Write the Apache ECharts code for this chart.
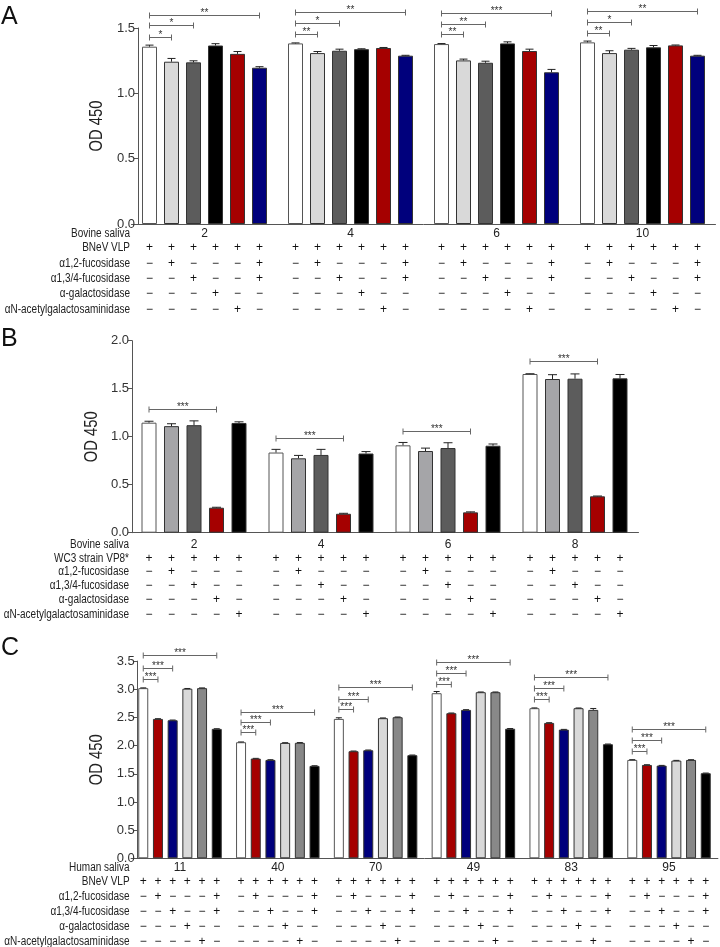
<!DOCTYPE html>
<html><head><meta charset="utf-8">
<script src="https://cdn.jsdelivr.net/npm/echarts@6/dist/echarts.min.js"></script>
<style>html,body{margin:0;padding:0;background:#fff}#c{width:720px;height:947px}</style>
</head><body><div id="c"></div>
<script>
const FONT = "'Liberation Sans',Arial,sans-serif";
const SQUEEZE = 0.8;

// ---------- Panel A ----------
const catA = ['2', '4', '6', '10'];
const aWhite     = [1.357, 1.382, 1.377, 1.390];
const aLightGray = [1.242, 1.308, 1.252, 1.308];
const aDarkGray  = [1.237, 1.326, 1.234, 1.334];
const aBlack     = [1.366, 1.338, 1.382, 1.352];
const aRed       = [1.302, 1.347, 1.324, 1.367];
const aBlue      = [1.196, 1.288, 1.161, 1.288];
const aWhiteErr     = [0.012, 0.004, 0.004, 0.010];
const aLightGrayErr = [0.025, 0.012, 0.010, 0.018];
const aDarkGrayErr  = [0.012, 0.012, 0.012, 0.010];
const aBlackErr     = [0.014, 0.003, 0.012, 0.014];
const aRedErr       = [0.018, 0.004, 0.014, 0.003];
const aBlueErr      = [0.008, 0.003, 0.022, 0.003];
const aBrackets = [[0,0,1,1.433],[0,0,2,1.521],[0,0,5,1.602],
                   [1,0,1,1.452],[1,0,2,1.536],[1,0,5,1.620],
                   [2,0,1,1.452],[2,0,2,1.531],[2,0,5,1.612],
                   [3,0,1,1.462],[3,0,2,1.543],[3,0,5,1.628]];
const aBrLabels = ['*','*','**','**','*','**','**','**','***','**','*','**'];
const aRowLabels = ['Bovine saliva','BNeV VLP','α1,2-fucosidase','α1,3/4-fucosidase','α-galactosidase','αN-acetylgalactosaminidase'];
const aSigns = [['+','+','+','+','+','+'],
                ['−','+','−','−','−','+'],
                ['−','−','+','−','−','+'],
                ['−','−','−','+','−','−'],
                ['−','−','−','−','+','−']];

// ---------- Panel B ----------
const catB = ['2', '4', '6', '8'];
const bWhite    = [1.146, 0.835, 0.910, 1.653];
const bGray     = [1.110, 0.775, 0.851, 1.601];
const bDarkGray = [1.120, 0.810, 0.882, 1.604];
const bRed      = [0.260, 0.197, 0.212, 0.379];
const bBlack    = [1.143, 0.825, 0.906, 1.608];
const bWhiteErr    = [0.015, 0.033, 0.030, 0.003];
const bGrayErr     = [0.025, 0.030, 0.030, 0.045];
const bDarkGrayErr = [0.045, 0.058, 0.055, 0.050];
const bRedErr      = [0.005, 0.005, 0.005, 0.003];
const bBlackErr    = [0.012, 0.020, 0.018, 0.040];
const bBrackets = [[0,0,3,1.285],[1,0,3,0.990],[2,0,3,1.062],[3,0,3,1.790]];
const bBrLabels = ['***','***','***','***'];
const bRowLabels = ['Bovine saliva','WC3 strain VP8*','α1,2-fucosidase','α1,3/4-fucosidase','α-galactosidase','αN-acetylgalactosaminidase'];
const bSigns = [['+','+','+','+','+'],
                ['−','+','−','−','−'],
                ['−','−','+','−','−'],
                ['−','−','−','+','−'],
                ['−','−','−','−','+']];

// ---------- Panel C ----------
const catC = ['11', '40', '70', '49', '83', '95'];
const cWhite     = [3.020, 2.060, 2.474, 2.930, 2.664, 1.746];
const cRed       = [2.474, 1.770, 1.900, 2.575, 2.403, 1.657];
const cBlue      = [2.450, 1.746, 1.918, 2.634, 2.284, 1.645];
const cLightGray = [3.010, 2.048, 2.487, 2.948, 2.664, 1.734];
const cGray      = [3.020, 2.050, 2.504, 2.948, 2.634, 1.746];
const cBlack     = [2.297, 1.640, 1.830, 2.300, 2.025, 1.510];
const cWhiteErr     = [0.005, 0.005, 0.020, 0.030, 0.005, 0.005];
const cRedErr       = [0.004, 0.004, 0.004, 0.004, 0.004, 0.004];
const cBlueErr      = [0.004, 0.004, 0.004, 0.004, 0.004, 0.004];
const cLightGrayErr = [0.004, 0.004, 0.004, 0.004, 0.004, 0.004];
const cGrayErr      = [0.004, 0.004, 0.004, 0.004, 0.025, 0.004];
const cBlackErr     = [0.003, 0.003, 0.003, 0.003, 0.003, 0.003];
const cBrackets = [[0,0,1,3.183],[0,0,2,3.383],[0,0,5,3.608],
                   [1,0,1,2.242],[1,0,2,2.414],[1,0,5,2.602],
                   [2,0,1,2.645],[2,0,2,2.833],[2,0,5,3.035],
                   [3,0,1,3.088],[3,0,2,3.284],[3,0,5,3.484],
                   [4,0,1,2.827],[4,0,2,3.017],[4,0,5,3.223],
                   [5,0,1,1.910],[5,0,2,2.100],[5,0,5,2.295]];
const cBrLabels = ['***','***','***','***','***','***','***','***','***','***','***','***','***','***','***','***','***','***'];
const cRowLabels = ['Human saliva','BNeV VLP','α1,2-fucosidase','α1,3/4-fucosidase','α-galactosidase','αN-acetylgalactosaminidase'];
const cSigns = aSigns;

// ---------- styles / layout ----------
const WHITE = '#ffffff', LGRAY = '#d9d9d9', DGRAY = '#5c5c5c', MGRAY = '#a5a5a8', GRAY = '#888888',
      BLACK = '#000000', RED = '#a50000', BLUE = '#00007c';

const panels = [
  { cats: catA, vals: [aWhite, aLightGray, aDarkGray, aBlack, aRed, aBlue],
    errs: [aWhiteErr, aLightGrayErr, aDarkGrayErr, aBlackErr, aRedErr, aBlueErr],
    colors: [WHITE, LGRAY, DGRAY, BLACK, RED, BLUE],
    grid: {left: 131.5, top: 28, width: 584, height: 196}, yOff: -6.5, max: 1.5, nameX: 97,
    bw: 15, gap: 7, cap: 4, labelMargin: 4,
    rowOff: [10, 24, 39.5, 55, 70, 85.5], rowLabels: aRowLabels, signs: aSigns,
    brackets: aBrackets, brLabels: aBrLabels, letter: 'A', letterTop: 5 },
  { cats: catB, vals: [bWhite, bGray, bDarkGray, bRed, bBlack],
    errs: [bWhiteErr, bGrayErr, bDarkGrayErr, bRedErr, bBlackErr],
    colors: [WHITE, MGRAY, DGRAY, RED, BLACK],
    grid: {left: 130.5, top: 340.7, width: 508, height: 192}, yOff: -1.5, max: 2.0, nameX: 92.5,
    bw: 15, gap: 7.5, cap: 4.5, labelMargin: 6,
    rowOff: [12, 25.5, 39, 53, 67, 81.5], rowLabels: bRowLabels, signs: bSigns,
    brackets: bBrackets, brLabels: bBrLabels, letter: 'B', letterTop: 327 },
  { cats: catC, vals: [cWhite, cRed, cBlue, cLightGray, cGray, cBlack],
    errs: [cWhiteErr, cRedErr, cBlueErr, cLightGrayErr, cGrayErr, cBlackErr],
    colors: [WHITE, RED, BLUE, LGRAY, GRAY, BLACK],
    grid: {left: 131.1, top: 661.1, width: 586.8, height: 197.2}, yOff: -6.6, max: 3.5, nameX: 97,
    bw: 10, gap: 4.7, cap: 3, labelMargin: 3,
    rowOff: [9, 23.5, 38.5, 53.5, 68.5, 83], rowLabels: cRowLabels, signs: cSigns,
    brackets: cBrackets, brLabels: cBrLabels, letter: 'C', letterTop: 636 }
];

const option = {
  animation: false,
  backgroundColor: '#fff',
  textStyle: {fontFamily: FONT},
  grid: [], xAxis: [], yAxis: [], series: [], graphic: []
};

panels.forEach((p, pi) => {
  const n = p.vals.length, pitch = p.bw + p.gap;
  option.grid.push(Object.assign({containLabel: false}, p.grid));
  option.xAxis.push({
    type: 'category', gridIndex: pi, data: p.cats,
    axisLine: {lineStyle: {color: '#555', width: 1}},
    axisTick: {alignWithLabel: true, length: 3, lineStyle: {color: '#555'}},
    axisLabel: {interval: 0, margin: p.labelMargin, fontSize: 12, color: '#222', fontFamily: FONT},
    splitLine: {show: false}
  });
  option.yAxis.push({
    type: 'value', gridIndex: pi, min: 0, max: p.max, interval: 0.5, offset: p.yOff,
    axisLine: {show: true, lineStyle: {color: '#555', width: 1}},
    axisTick: {show: true, length: 4, lineStyle: {color: '#555'}},
    axisLabel: {fontSize: 13, color: '#333', margin: 3, formatter: v => v.toFixed(1), fontFamily: FONT},
    splitLine: {show: false}
  });
  p.vals.forEach((arr, bi) => {
    option.series.push({
      type: 'bar', xAxisIndex: pi, yAxisIndex: pi, data: arr,
      barWidth: p.bw, barGap: (p.gap / p.bw * 100) + '%',
      itemStyle: {color: p.colors[bi], borderColor: p.colors[bi] === WHITE ? '#555' : '#333', borderWidth: 1},
      z: 2
    });
  });
  // error bars
  const errData = [];
  p.vals.forEach((arr, bi) => arr.forEach((v, gi) => errData.push([gi, v, bi, p.errs[bi][gi]])));
  option.series.push({
    type: 'custom', xAxisIndex: pi, yAxisIndex: pi, data: errData, clip: false, z: 3,
    encode: {x: 0, y: 1},
    renderItem: (params, api) => {
      const gi = api.value(0), v = api.value(1), bi = api.value(2), e = api.value(3);
      const c0 = api.coord([gi, v]), c1 = api.coord([gi, v + e]);
      const x = c0[0] + (bi - (n - 1) / 2) * pitch;
      const st = {stroke: '#222', lineWidth: 1};
      return {type: 'group', children: [
        {type: 'line', shape: {x1: x, y1: c0[1], x2: x, y2: c1[1]}, style: st},
        {type: 'line', shape: {x1: x - p.cap, y1: c1[1], x2: x + p.cap, y2: c1[1]}, style: st}
      ]};
    }
  });
  // significance brackets
  option.series.push({
    type: 'custom', xAxisIndex: pi, yAxisIndex: pi, data: p.brackets, clip: false, z: 4,
    encode: {x: 0, y: 3},
    renderItem: (params, api) => {
      const gi = api.value(0), f = api.value(1), t = api.value(2), yv = api.value(3);
      const c = api.coord([gi, yv]);
      const x1 = c[0] + (f - (n - 1) / 2) * pitch, x2 = c[0] + (t - (n - 1) / 2) * pitch;
      const y = Math.round(c[1]) + 0.5;
      const st = {stroke: '#666', lineWidth: 1};
      return {type: 'group', children: [
        {type: 'line', shape: {x1: x1, y1: y, x2: x2, y2: y}, style: st},
        {type: 'line', shape: {x1: x1, y1: y - 3, x2: x1, y2: y + 3}, style: st},
        {type: 'line', shape: {x1: x2, y1: y - 3, x2: x2, y2: y + 3}, style: st},
        {type: 'text', style: {text: p.brLabels[params.dataIndex], x: (x1 + x2) / 2, y: y - 2,
          align: 'center', verticalAlign: 'middle', fontSize: 10, fontFamily: FONT, fill: '#333'}}
      ]};
    }
  });
  // condition table
  option.series.push({
    type: 'custom', xAxisIndex: pi, yAxisIndex: pi, data: p.cats.map((c, i) => [i, 0]), clip: false, z: 4,
    encode: {x: 0, y: 1},
    renderItem: (params, api) => {
      const gi = api.value(0);
      const c = api.coord([gi, 0]);
      const kids = [];
      p.signs.forEach((row, r) => row.forEach((s, b) => {
        kids.push({type: 'text', style: {text: s, x: c[0] + (b - (n - 1) / 2) * pitch, y: c[1] + p.rowOff[r + 1],
          align: 'center', verticalAlign: 'middle', fontSize: 12, fontFamily: FONT, fill: '#111'}});
      }));
      if (params.dataIndex === 0) {
        const cs = params.coordSys;
        p.rowLabels.forEach((lab, r) => {
          kids.push({type: 'text', x: cs.x - 1.5, y: c[1] + p.rowOff[r], scaleX: SQUEEZE, scaleY: 1,
            style: {text: lab, x: 0, y: 0,
            align: 'right', verticalAlign: 'middle', fontSize: 12.5, fontFamily: FONT, fill: '#222'}});
        });
      }
      return {type: 'group', children: kids};
    }
  });
  option.graphic.push({type: 'text', left: 1, top: p.letterTop,
    style: {text: p.letter, fontSize: 25, fontFamily: FONT, fill: '#111'}});
  option.graphic.push({type: 'text', x: p.nameX, y: p.grid.top + p.grid.height / 2,
    rotation: Math.PI / 2, scaleX: 0.82, scaleY: 1,
    style: {text: 'OD 450', x: 0, y: 0, align: 'center', verticalAlign: 'middle', fontSize: 18, fontFamily: FONT, fill: '#222'}});
});

const chart = echarts.init(document.getElementById('c'), null, {renderer: 'canvas'});
chart.setOption(option);
</script></body></html>
